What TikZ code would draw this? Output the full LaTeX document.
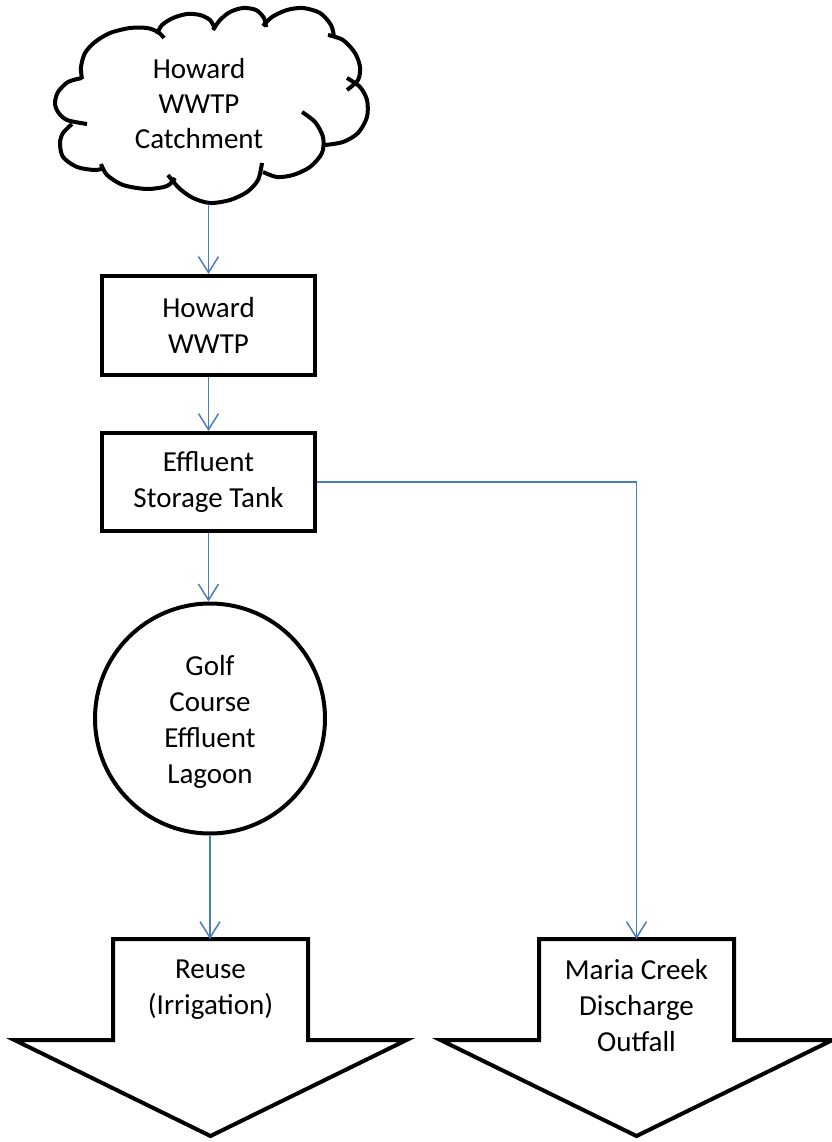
\documentclass[tikz,border=0pt]{standalone}
\usepackage{fontspec}
\setmainfont{Carlito}
\usetikzlibrary{arrows.meta}
\definecolor{flowblue}{RGB}{74,126,187}
\begin{document}
\begin{tikzpicture}[x=1pt,y=-1pt,
  outline/.style={draw=black, line width=4pt},
  cloudline/.style={outline, line cap=butt},
  box/.style={outline, fill=white, rectangle, inner sep=0pt, align=center,
    font=\fontsize{29}{36}\selectfont},
  roundbox/.style={outline, fill=white, circle, inner sep=0pt},
  lbl/.style={align=center, inner sep=0pt, font=\fontsize{29}{36}\selectfont},
  flow/.style={draw=flowblue, line width=1.5pt, -{Straight Barb[length=16pt,width=20pt]}},
  ]
\useasboundingbox (0,0) rectangle (831,1142);

% cloud (Howard WWTP Catchment)
\draw[cloudline] plot[smooth] coordinates {(82,79) (81,67) (85,53) (95,42) (110,33) (130,28) (147,28) (158,32) (164,38)};
\draw[cloudline] plot[smooth] coordinates {(157,34) (162,25) (173,18) (187,14) (200,15) (210,20) (215,29)};
\draw[cloudline] plot[smooth] coordinates {(213,30) (220,20) (230,12) (243,8) (256,10) (264,18) (266,27)};
\draw[cloudline] plot[smooth] coordinates {(263,26) (272,17) (287,10) (303,8) (320,13) (331,25) (334,37)};
\draw[cloudline] plot[smooth] coordinates {(328,35) (343,40) (355,53) (360,67) (358,80) (347,90)};
\draw[cloudline] plot[smooth] coordinates {(347,78) (360,87) (367,100) (367,117) (358,133) (343,142) (325,145)};
\draw[cloudline] plot[smooth] coordinates {(302,112) (315,122) (323,137) (322,153) (310,167) (293,175) (277,177) (263,172)};
\draw[cloudline] plot[smooth] coordinates {(262,163) (258,180) (247,192) (230,200) (210,203) (193,198) (180,189) (172,180) (168,175)};
\draw[cloudline] plot[smooth] coordinates {(101,164) (107,175) (123,185) (147,189) (167,186) (175,178)};
\draw[cloudline] plot[smooth] coordinates {(72,124) (63,133) (60,143) (63,157) (77,167) (95,170) (104,168)};
\draw[cloudline] plot[smooth] coordinates {(82,78) (68,82) (58,92) (55,103) (58,112) (67,120) (87,124)};
\node[lbl, anchor=north, font=\fontsize{29}{35}\selectfont] (cloudtxt) at (199,58) {Howard\\WWTP\\Catchment};
\coordinate (cloudbot) at (208.5,204);

% boxes
\node[box, minimum width=213pt, minimum height=99pt] (wwtp) at (208.5,325.5) {Howard\\WWTP};
\node[box, minimum width=213pt, minimum height=98pt] (tank) at (208.5,482) {Effluent\\Storage Tank};

% lagoon
\node[roundbox, minimum size=230pt] (lagoon) at (210,718.5) {};
\node[lbl, anchor=north] (lagoontxt) at (210,655) {Golf\\Course\\Effluent\\Lagoon};

% bottom block arrows
\draw[outline, fill=white] (113,939) -- (308,939) -- (308,1040) -- (406.5,1040) -- (210.5,1136)
  -- (14.5,1040) -- (113,1040) -- cycle;
\coordinate (reusetop) at (210,939);
\node[lbl, anchor=north] (reuse) at (210.5,960) {Reuse\\(Irrigation)};

\draw[outline, fill=white] (539,939) -- (734,939) -- (734,1040) -- (832.5,1040) -- (636.5,1136)
  -- (440.5,1040) -- (539,1040) -- cycle;
\coordinate (mariatop) at (636.5,939);
\node[lbl, anchor=north] (maria) at (636.5,959) {Maria Creek\\Discharge\\Outfall};

% connectors
\draw[flow] (cloudbot) -- (wwtp.north);
\draw[flow] (wwtp.south) -- (tank.north);
\draw[flow] (tank.south) -- (tank.south |- lagoon.north);
\draw[flow] (lagoon.south) -- (reusetop);
\draw[flow] (tank.east) -| (mariatop);
\end{tikzpicture}
\end{document}
